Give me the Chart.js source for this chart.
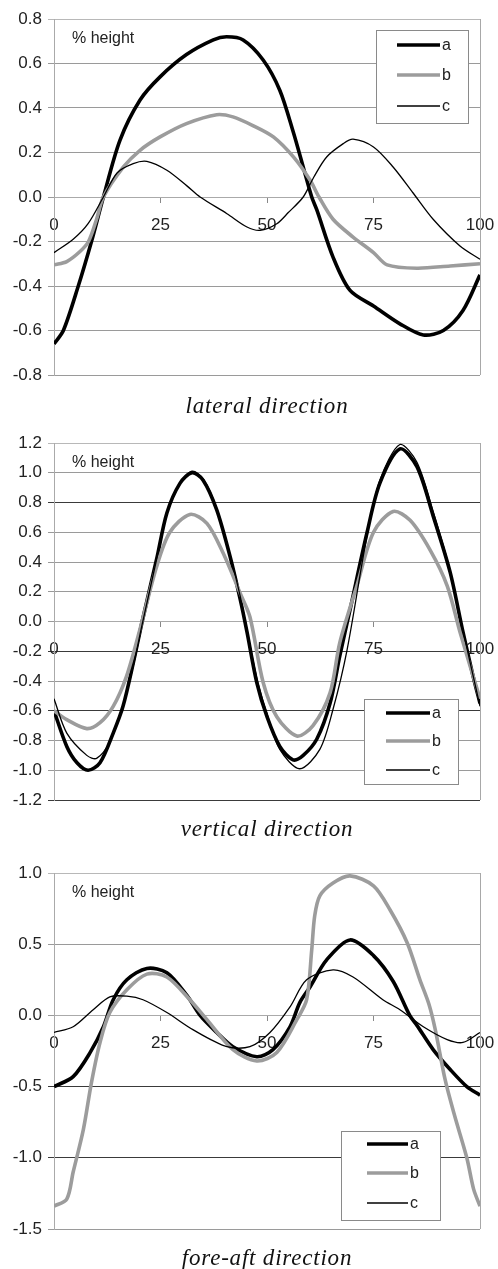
<!DOCTYPE html>
<html><head><meta charset="utf-8">
<script src="https://cdn.jsdelivr.net/npm/chart.js@4"></script>
<style>
html,body{margin:0;padding:0;background:#fff;}
#wrap{position:relative;width:498px;height:1269px;overflow:hidden;background:#fff;}
canvas{position:absolute;left:0;}
.ttl{position:absolute;left:54px;width:426px;text-align:center;font-family:'Liberation Serif','Times New Roman',serif;font-style:italic;font-size:23px;line-height:23px;letter-spacing:0.8px;color:#111;white-space:nowrap;}
</style></head><body>
<div id="wrap">
<canvas id="c1" width="498" height="400" style="top:0px"></canvas>
<div class="ttl" style="top:394px">lateral direction</div>
<canvas id="c2" width="498" height="400" style="top:424px"></canvas>
<div class="ttl" style="top:817px">vertical direction</div>
<canvas id="c3" width="498" height="400" style="top:854px"></canvas>
<div class="ttl" style="top:1246px">fore-aft direction</div>
</div>
<script>
const seriesLabels = ['a', 'b', 'c'];
const xTicks = [0, 25, 50, 75, 100];
const noteText = '% height';

// lateral direction
const latAx = [0, 2.2, 5.7, 8.8, 11.6, 15.5, 20.2, 24.9, 31.1, 37.4, 40.5, 44.4, 49.1, 53, 56.2, 58.5, 60.5, 61.7, 65.5, 69.5, 75, 81.2, 86.7, 91.4, 96, 100];
const latAy = [-0.66, -0.6, -0.4, -0.2, 0, 0.256, 0.436, 0.54, 0.64, 0.706, 0.72, 0.706, 0.616, 0.48, 0.29, 0.135, 0, -0.058, -0.27, -0.42, -0.49, -0.57, -0.62, -0.6, -0.51, -0.35];
const latBx = [0, 3, 6.1, 8.1, 10, 11.6, 16.3, 20.2, 24.9, 31.1, 38.2, 42, 46.8, 51.5, 56.2, 60.1, 62.2, 65.5, 70.2, 75, 78.2, 85.2, 93, 100];
const latBy = [-0.305, -0.29, -0.245, -0.2, -0.1, 0, 0.135, 0.21, 0.27, 0.33, 0.37, 0.36, 0.32, 0.27, 0.18, 0.076, 0, -0.1, -0.18, -0.25, -0.305, -0.32, -0.31, -0.3];
const latCx = [0, 4.5, 8, 11.6, 14.8, 18.6, 21.8, 26.5, 31.2, 34.3, 40.6, 45.3, 48.4, 52.3, 55, 58.5, 61, 64, 67.9, 70.2, 75, 79.6, 84.3, 89, 95.3, 100];
const latCy = [-0.25, -0.19, -0.12, 0, 0.108, 0.15, 0.16, 0.12, 0.05, 0, -0.075, -0.135, -0.15, -0.12, -0.07, 0, 0.09, 0.18, 0.24, 0.26, 0.225, 0.135, 0.018, -0.1, -0.22, -0.28];

// vertical direction
const verAx = [0, 3, 5.4, 8, 10.8, 13.9, 16.2, 18.6, 20.7, 24.1, 26.5, 29.6, 32.4, 35, 38.2, 41.3, 43.7, 45.3, 47.6, 50, 53, 56.1, 58.5, 61.7, 64.8, 67.1, 69.5, 73.5, 76.5, 81.2, 85.2, 89, 93, 96, 98.4, 100];
const verAy = [-0.6, -0.84, -0.95, -1.0, -0.95, -0.75, -0.57, -0.28, 0, 0.42, 0.73, 0.93, 1.0, 0.95, 0.75, 0.44, 0.15, -0.07, -0.41, -0.64, -0.84, -0.93, -0.9, -0.79, -0.55, -0.23, 0.08, 0.6, 0.93, 1.16, 1.04, 0.71, 0.33, -0.07, -0.37, -0.55];
const verBx = [0, 3, 7.7, 10.8, 13.9, 17, 20.2, 24.1, 27.2, 31.9, 35.9, 39.7, 43.7, 46, 49.1, 52.3, 57, 60.8, 64.8, 67.1, 71.1, 75, 79.6, 83.6, 88.3, 92.3, 95.3, 100];
const verBy = [-0.6, -0.66, -0.72, -0.68, -0.57, -0.37, -0.05, 0.37, 0.6, 0.72, 0.66, 0.46, 0.19, 0.03, -0.41, -0.64, -0.77, -0.7, -0.48, -0.14, 0.24, 0.6, 0.74, 0.68, 0.48, 0.24, -0.07, -0.52];
const verCx = [0, 3, 7.7, 10, 13.1, 16.2, 18.6, 20.7, 24.1, 26.5, 29.6, 32.4, 35, 38.2, 41.3, 43.7, 47.6, 50, 53, 57.7, 62.4, 65.5, 68.8, 73.5, 76.5, 81.2, 85.2, 89, 93, 96, 100];
const verCy = [-0.52, -0.75, -0.9, -0.92, -0.81, -0.57, -0.3, -0.02, 0.42, 0.73, 0.93, 1.01, 0.96, 0.76, 0.45, 0.17, -0.38, -0.62, -0.86, -0.99, -0.86, -0.59, -0.19, 0.58, 0.95, 1.19, 1.07, 0.74, 0.34, -0.06, -0.57];

// fore-aft direction
const forAx = [0, 4.5, 8.5, 11.6, 13.9, 17.1, 21.8, 26.5, 31.2, 34.3, 38.2, 42, 47.6, 51.4, 55.4, 57.7, 60.1, 64, 69.5, 75, 79.6, 83.5, 85.2, 89, 93, 96.9, 100];
const forAy = [-0.5, -0.43, -0.26, -0.08, 0.11, 0.25, 0.33, 0.3, 0.14, 0, -0.12, -0.22, -0.29, -0.24, -0.08, 0.09, 0.2, 0.39, 0.53, 0.42, 0.24, 0, -0.07, -0.24, -0.38, -0.5, -0.56];
const forBx = [0, 3, 4.5, 6.9, 8.8, 10.8, 13.1, 17.1, 21.8, 26.5, 31.9, 35.9, 42, 47.6, 52.3, 57, 59.3, 60.5, 61.2, 62.4, 65.5, 69.5, 75, 78.9, 82.9, 85.9, 88, 89.5, 91.8, 94, 96.9, 98.5, 100];
const forBy = [-1.34, -1.29, -1.1, -0.8, -0.47, -0.19, 0.02, 0.18, 0.29, 0.27, 0.11, -0.03, -0.24, -0.32, -0.26, -0.03, 0.11, 0.46, 0.7, 0.84, 0.93, 0.98, 0.91, 0.74, 0.51, 0.25, 0.08, -0.1, -0.45, -0.7, -1.0, -1.22, -1.34];
const forCx = [0, 4.5, 9.2, 13.1, 17.1, 20.9, 26.5, 32.6, 40.6, 46, 50.7, 55.4, 59.3, 65.5, 70.2, 77.2, 81.2, 86.7, 92.3, 96, 100];
const forCy = [-0.12, -0.08, 0.04, 0.13, 0.135, 0.11, 0.02, -0.1, -0.22, -0.22, -0.12, 0.06, 0.25, 0.32, 0.27, 0.11, 0.04, -0.08, -0.17, -0.19, -0.12];

const seriesStyles = [
  { borderColor: '#000000', borderWidth: 3.6, order: 3 },
  { borderColor: '#9c9c9c', borderWidth: 3.6, order: 2 },
  { borderColor: '#000000', borderWidth: 1.3, order: 1 }
];

function pts(xs, ys) { return xs.map((x, i) => ({ x: x, y: ys[i] })); }

const extras = {
  id: 'extras',
  afterDraw(chart, args, opts) {
    const ctx = chart.ctx, a = chart.chartArea;
    ctx.save();
    ctx.strokeStyle = '#a8a8a8'; ctx.lineWidth = 1;
    ctx.beginPath();
    ctx.moveTo(Math.round(a.right) + 0.5, Math.round(a.top));
    ctx.lineTo(Math.round(a.right) + 0.5, Math.round(a.bottom));
    ctx.stroke();
    ctx.fillStyle = '#222';
    ctx.font = '16px "Liberation Sans", Arial, sans-serif';
    ctx.textBaseline = 'alphabetic';
    ctx.textAlign = 'left';
    ctx.fillText(opts.note, a.left + 18, a.top + 24);
    const L = opts.legend;
    ctx.fillStyle = '#fff';
    ctx.fillRect(L.x, L.y, L.w, L.h);
    ctx.strokeStyle = '#8a8a8a';
    ctx.lineWidth = 1;
    ctx.strokeRect(L.x + 0.5, L.y + 0.5, L.w, L.h);
    chart.data.datasets.forEach((ds, i) => {
      const y = L.y + L.rows[i];
      ctx.strokeStyle = ds.borderColor;
      ctx.lineWidth = ds.borderWidth;
      ctx.beginPath();
      ctx.moveTo(L.lx, y); ctx.lineTo(L.lx + L.len, y);
      ctx.stroke();
      ctx.fillStyle = '#222';
      ctx.textBaseline = 'middle';
      ctx.fillText(ds.label, L.lx + L.len + 2, y + 1);
    });
    ctx.restore();
  }
};

function makeChart(id, xsList, ysList, yMin, yMax, step, darkTicks, legend, padBottom) {
  const datasets = seriesLabels.map((lab, i) => Object.assign({
    label: lab,
    data: pts(xsList[i], ysList[i]),
    pointRadius: 0,
    fill: false,
    tension: 0.3
  }, seriesStyles[i]));
  const gridColor = (c) => {
    if (!c.tick) return '#999';
    const v = Math.round(c.tick.value * 100) / 100;
    if (v === yMax) return '#b8b8b8';
    return darkTicks.includes(v) ? '#3a3a3a' : '#9a9a9a';
  };
  return new Chart(document.getElementById(id), {
    type: 'line',
    data: { datasets },
    options: {
      responsive: false,
      animation: false,
      layout: { padding: { top: 19, right: 18, bottom: padBottom, left: 0 } },
      plugins: { legend: { display: false }, tooltip: { enabled: false }, extras: { note: noteText, legend: legend } },
      scales: {
        x: {
          type: 'linear', min: 0, max: 100,
          position: { y: 0 },
          afterBuildTicks(s) { s.ticks = xTicks.map(v => ({ value: v })); },
          afterFit(s) { s.paddingRight = 0; s.paddingLeft = 0; },
          ticks: { color: '#222', font: { family: '"Liberation Sans", Arial, sans-serif', size: 17 }, padding: 13, maxRotation: 0 },
          grid: { drawOnChartArea: false, drawTicks: true, tickLength: 5, color: '#888' },
          border: { display: true, color: '#aaa' }
        },
        y: {
          type: 'linear', min: yMin, max: yMax,
          afterFit(s) { s.width = 54; },
          ticks: { stepSize: step, color: '#222', padding: 6, font: { family: '"Liberation Sans", Arial, sans-serif', size: 17 }, callback: (v) => v.toFixed(1) },
          grid: { color: gridColor, tickLength: 6, lineWidth: 1 },
          border: { display: true, color: '#aaa' }
        }
      }
    },
    plugins: [extras]
  });
}

makeChart('c1', [latAx, latBx, latCx], [latAy, latBy, latCy], -0.8, 0.8, 0.2, [],
  { x: 376, y: 30, w: 92, h: 93, rows: [15, 45, 76], lx: 397, len: 43 }, 25);
makeChart('c2', [verAx, verBx, verCx], [verAy, verBy, verCy], -1.2, 1.2, 0.2, [0.8, -0.2, -0.6, -1.2],
  { x: 364, y: 275, w: 94, h: 85, rows: [14, 42, 71], lx: 386, len: 44 }, 24);
makeChart('c3', [forAx, forBx, forCx], [forAy, forBy, forCy], -1.5, 1.0, 0.5, [-0.5, -1.0],
  { x: 341, y: 277, w: 99, h: 89, rows: [13, 42, 72], lx: 367, len: 41 }, 25);
</script>
</body></html>
